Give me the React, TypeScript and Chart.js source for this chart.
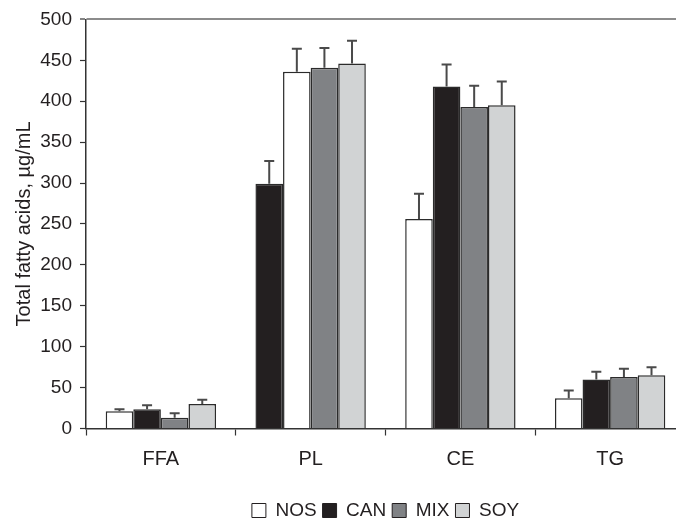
import React, { useEffect, useRef } from 'react';
import { Chart, registerables } from 'chart.js';

Chart.register(...registerables);

const categories = ['FFA', 'PL', 'CE', 'TG'];
const seriesNames = ['NOS', 'CAN', 'MIX', 'SOY'];
const seriesColors = ['#ffffff', '#231f20', '#808285', '#d1d3d4'];
const yTickValues = [0, 50, 100, 150, 200, 250, 300, 350, 400, 450, 500];

// Bars by position inside each group (left to right), as drawn in the figure
const bar1Values = [21, 299, 256, 37];
const bar2Values = [23.5, 436, 418, 60];
const bar3Values = [13, 441, 393, 63];
const bar4Values = [30, 446, 395, 65];

const bar1Errors = [2.5, 28, 31, 9.5];
const bar2Errors = [5, 28, 27, 9.5];
const bar3Errors = [5.5, 24, 26, 10];
const bar4Errors = [5, 28, 29, 10];

// Which diet each bar position shows in each category (PL has NOS/CAN swapped in the figure)
const bar1Series = ['NOS', 'CAN', 'NOS', 'NOS'];
const bar2Series = ['CAN', 'NOS', 'CAN', 'CAN'];
const bar3Series = ['MIX', 'MIX', 'MIX', 'MIX'];
const bar4Series = ['SOY', 'SOY', 'SOY', 'SOY'];

const positions = [
  { values: bar1Values, errors: bar1Errors, series: bar1Series },
  { values: bar2Values, errors: bar2Errors, series: bar2Series },
  { values: bar3Values, errors: bar3Errors, series: bar3Series },
  { values: bar4Values, errors: bar4Errors, series: bar4Series },
];

const TEXT = '#231f20';
const FONT = "'Liberation Sans', Arial, sans-serif";

const colorOf = (name: string) => seriesColors[seriesNames.indexOf(name)];

const errorBarPlugin = {
  id: 'errorBars',
  afterDatasetsDraw(chart: any) {
    const ctx = chart.ctx;
    const yScale = chart.scales.y;
    ctx.save();
    ctx.strokeStyle = '#4a4a4a';
    ctx.lineWidth = 2;
    chart.data.datasets.forEach((ds: any, i: number) => {
      const meta = chart.getDatasetMeta(i);
      meta.data.forEach((bar: any, j: number) => {
        const v = ds.data[j];
        const e = ds.errors[j];
        const yTop = yScale.getPixelForValue(v + e);
        ctx.beginPath();
        ctx.moveTo(bar.x, bar.y);
        ctx.lineTo(bar.x, yTop);
        ctx.moveTo(bar.x - 5, yTop);
        ctx.lineTo(bar.x + 5, yTop);
        ctx.stroke();
      });
    });
    ctx.restore();
  },
};

export default function App() {
  const ref = useRef<HTMLCanvasElement | null>(null);

  useEffect(() => {
    if (!ref.current) return;
    const chart = new Chart(ref.current, {
      type: 'bar',
      data: {
        labels: categories,
        datasets: positions.map((p, i) => ({
          label: `bar${i + 1}`,
          data: p.values,
          errors: p.errors,
          backgroundColor: p.series.map(colorOf),
          borderColor: '#2b2b2b',
          borderWidth: 1.5,
          categoryPercentage: 0.737,
          barPercentage: 1,
        })) as any,
      },
      options: {
        responsive: false,
        animation: false,
        devicePixelRatio: 1,
        layout: { padding: { left: 0, right: 15, top: 14, bottom: 0 } },
        plugins: {
          tooltip: { enabled: false },
          legend: {
            position: 'bottom',
            fullSize: false,
            labels: {
              boxWidth: 14,
              boxHeight: 14,
              padding: 6,
              color: TEXT,
              font: { family: FONT, size: 19 },
              generateLabels: () =>
                seriesNames.map((n, i) => ({
                  text: n,
                  fillStyle: seriesColors[i],
                  strokeStyle: '#231f20',
                  lineWidth: 1,
                  hidden: false,
                  datasetIndex: i,
                  fontColor: TEXT,
                })),
            },
          },
        },
        scales: {
          x: {
            afterFit: (s: any) => {
              s.height = 66.5;
            },
            grid: {
              display: true,
              drawOnChartArea: false,
              drawTicks: true,
              tickLength: 7,
              tickColor: '#333',
              tickWidth: 1.2,
              offset: true,
            },
            border: { display: true, color: '#333', width: 1.5 },
            ticks: {
              color: TEXT,
              padding: 12,
              font: { family: FONT, size: 20 },
            },
          },
          y: {
            min: 0,
            max: 500,
            afterFit: (s: any) => {
              s.width = 86;
            },
            afterBuildTicks: (s: any) => {
              s.ticks = yTickValues.map((v) => ({ value: v }));
            },
            grid: {
              drawOnChartArea: true,
              drawTicks: true,
              tickLength: 6,
              tickColor: '#333',
              tickWidth: 1.2,
              color: (c: any) => (c.tick && c.tick.value === 500 ? '#8c8c8c' : 'rgba(0,0,0,0)'),
              lineWidth: (c: any) => (c.tick && c.tick.value === 500 ? 2 : 1),
            },
            border: { display: true, color: '#333', width: 1.5 },
            ticks: {
              color: TEXT,
              padding: 8,
              font: { family: FONT, size: 19 },
            },
            title: {
              display: true,
              text: 'Total fatty acids, µg/mL',
              color: TEXT,
              font: { family: FONT, size: 20 },
              padding: { top: 12, bottom: 0 },
            },
          },
        },
      },
      plugins: [errorBarPlugin],
    });
    return () => chart.destroy();
  }, []);

  return (
    <div
      style={{
        position: 'fixed',
        left: 0,
        top: 0,
        width: 676,
        height: 523,
        overflow: 'hidden',
        background: '#ffffff',
      }}
    >
      <canvas ref={ref} width={700} height={530} style={{ width: 700, height: 530, display: 'block' }} />
    </div>
  );
}
